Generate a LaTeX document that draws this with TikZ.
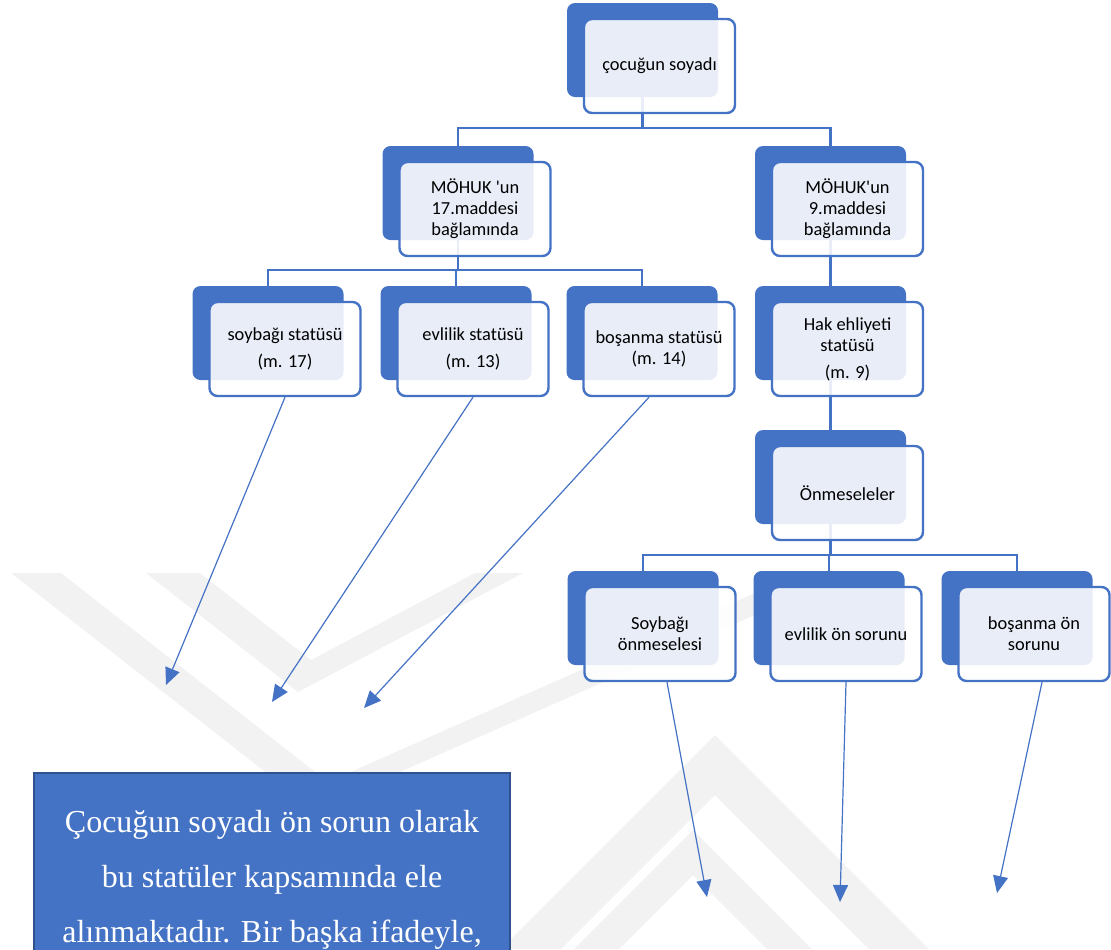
\documentclass[tikz,border=0pt]{standalone}
\usepackage{fontspec}
\usepackage{tikz}
\usetikzlibrary{arrows.meta}
\newfontfamily\boxfont{Carlito}
\newfontfamily\notefont{Liberation Serif}
\definecolor{accent}{HTML}{4472C4}
\definecolor{accentdark}{HTML}{2F528F}
\definecolor{wmark}{HTML}{F2F2F2}

\begin{document}
\begin{tikzpicture}[x=0.5pt,y=-0.5pt,
  back/.style={rectangle,rounded corners=4pt,fill=accent,minimum width=75.5pt,minimum height=47pt,inner sep=0pt},
  front/.style={rectangle,rounded corners=4pt,draw=accent,line width=1.2pt,fill=white,fill opacity=0.88,text opacity=1,
    minimum width=75.5pt,minimum height=47pt,inner sep=0pt,align=center,font=\boxfont\fontsize{9.2}{10.5}\selectfont},
  link/.style={draw=accent,line width=1.3pt},
  pointer/.style={draw=accent,line width=0.6pt,-{Triangle[length=8.5pt,width=7.5pt]}},
  notebox/.style={rectangle,draw=accentdark,line width=0.8pt,fill=accent,text=white,align=center,inner sep=0pt,
    minimum width=238pt,minimum height=107pt,font=\notefont\fontsize{16}{27.5}\selectfont}]
\useasboundingbox (0,0) rectangle (1111,949);
\clip (0,0) rectangle (1111,949);

\fill[wmark] (11,573) -- (314,810) -- (850,573) -- (800,573) -- (328,782) -- (61,573) -- cycle;
\fill[wmark] (146,573) -- (298,692) -- (523,573) -- (475,573) -- (311,660) -- (200,573) -- cycle;
\fill[wmark] (501,949) -- (715,735) -- (929,949) -- (869,949) -- (715,795) -- (561,949) -- cycle;
\fill[wmark] (574,949) -- (693,830) -- (812,949) -- (767,949) -- (693,875) -- (619,949) -- cycle;

\node[back] (top-b) at (642.5,50) {};
\node[back] (m17-b) at (458,193) {};
\node[back] (m9-b) at (830.5,193) {};
\node[back] (soy-b) at (268,333) {};
\node[back] (evl-b) at (456,333) {};
\node[back] (bos-b) at (642,333) {};
\node[back] (hak-b) at (830.5,333) {};
\node[back] (onm-b) at (830.5,477) {};
\node[back] (soyon-b) at (643,618) {};
\node[back] (evlon-b) at (829,618) {};
\node[back] (boson-b) at (1017,618) {};

\coordinate (bar1) at (642.5,128);
\coordinate (bar2) at (458,270);
\coordinate (bar3) at (830.5,555);
\draw[link] (top-b.south) -- (bar1);
\draw[link] (m17-b.north) |- (bar1) -| (m9-b.north);
\draw[link] (m17-b.south) -- (bar2);
\draw[link] (soy-b.north) |- (bar2) -| (bos-b.north);
\draw[link] (evl-b.north) -- (evl-b.north |- bar2);
\draw[link] (m9-b.south) -- (hak-b.north);
\draw[link] (hak-b.south) -- (onm-b.north);
\draw[link] (onm-b.south) -- (bar3);
\draw[link] (soyon-b.north) |- (bar3) -| (boson-b.north);
\draw[link] (evlon-b.north) -- (evlon-b.north |- bar3);

\node[front] (top) at (659.5,66) {çocuğun soyadı};
\node[front] (m17) at (475,209) {MÖHUK 'un\\17.maddesi\\bağlamında};
\node[front] (m9) at (847.5,209) {MÖHUK'un\\9.maddesi\\bağlamında};
\node[front] (soy) at (285,349) {soybağı statüsü\\[3pt](m. 17)};
\node[front] (evl) at (473,349) {evlilik statüsü\\[3pt](m. 13)};
\node[front] (bos) at (659,349) {boşanma statüsü\\(m. 14)};
\node[front] (hak) at (847.5,349) {Hak ehliyeti\\statüsü\\[3pt](m. 9)};
\node[front] (onm) at (847.5,493) {Önmeseleler};
\node[front] (soyon) at (660,634) {Soybağı\\önmeselesi};
\node[front] (evlon) at (846,634) {evlilik ön sorunu};
\node[front] (boson) at (1034,634) {boşanma ön\\sorunu};

\coordinate (tip1) at (166,685);
\coordinate (tip2) at (272,702);
\coordinate (tip3) at (364,708);
\coordinate (tip4) at (707,897);
\coordinate (tip5) at (840,902);
\coordinate (tip6) at (997,893);
\draw[pointer] (soy.south) -- (tip1);
\draw[pointer] (evl.south) -- (tip2);
\draw[pointer] ([xshift=-5pt]bos.south) -- (tip3);
\draw[pointer] ([xshift=3.5pt]soyon.south) -- (tip4);
\draw[pointer] (evlon.south) -- (tip5);
\draw[pointer] ([xshift=4pt]boson.south) -- (tip6);

\node[notebox] (note) at (272,880) {Çocuğun soyadı ön sorun olarak\\bu statüler kapsamında ele\\alınmaktadır. Bir başka ifadeyle,};
\end{tikzpicture}
\end{document}
